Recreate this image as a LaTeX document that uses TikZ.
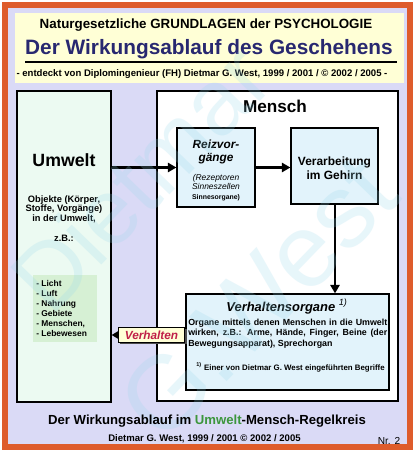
\documentclass[tikz,border=0pt]{standalone}
\usepackage{fontspec}
\setmainfont{Liberation Sans}
\usetikzlibrary{arrows.meta,fit,shadows}

\definecolor{frameorange}{RGB}{222,92,44}
\definecolor{backlav}{RGB}{218,218,246}
\definecolor{headyellow}{RGB}{255,255,214}
\definecolor{titleblue}{RGB}{40,40,112}
\definecolor{umweltfill}{RGB}{236,250,242}
\definecolor{listgreen}{RGB}{214,240,212}
\definecolor{organfill}{RGB}{226,243,251}
\definecolor{verhaltenred}{RGB}{192,32,72}
\definecolor{umweltgreen}{RGB}{60,150,60}
\definecolor{wmblue}{RGB}{150,215,235}

\newcommand{\fs}[2]{\fontsize{#1}{#2}\selectfont}

\tikzset{
  txt/.style={inner sep=0pt, font=\bfseries},
  box/.style={draw=black, line width=0.9pt, inner sep=0pt},
  flow/.style={line width=1.7pt, -{Triangle[length=6pt,width=6.5pt]}},
  watermark/.style={inner sep=0pt, text=wmblue, opacity=0.22, rotate=46}
}

\begin{document}
\begin{tikzpicture}[x=0.025cm, y=-0.025cm]
  \useasboundingbox (0,0) rectangle (416,457);

  % Frame and background
  \draw[line width=4.3pt, draw=frameorange, fill=backlav] (5,5) rectangle (410,447);

  % Header
  \node[fill=headyellow, inner sep=0pt, fit={(15,13) (404,83)}] (head) {};
  \node[txt, anchor=base, font=\bfseries\fs{9.5}{11}] (subject) at (206,29)
    {Naturgesetzliche GRUNDLAGEN der PSYCHOLOGIE};
  \node[txt, anchor=base, text=titleblue, font=\bfseries\fs{14.8}{17}] (title) at (209,55)
    {Der Wirkungsablauf des Geschehens};
  \draw[line width=0.8pt] (25,62) -- (397,62);
  \node[txt, anchor=base, font=\bfseries\fs{6.8}{8}] (discover) at (202,77)
    {- entdeckt von Diplomingenieur (FH) Dietmar G. West, 1999 / 2001 / © 2002 / 2005 -};

  % Umwelt (base anchor = last line)
  \node[box, fill=umweltfill, fit={(17,91) (111,402)}] (umwelt) {};
  \node[txt, anchor=base, font=\bfseries\fs{12.6}{14}] (umwelttitle) at (64,167) {Umwelt};
  \node[txt, anchor=base, align=center, font=\bfseries\fs{6.6}{6.8}] (objekte) at (64,221.5)
    {Objekte (Körper,\\Stoffe, Vorgänge)\\in der Umwelt,};
  \node[txt, anchor=base, font=\bfseries\fs{6.6}{6.8}] (zb) at (64,241.5) {z.B.:};
  \node[fill=listgreen, inner sep=0pt, fit={(33,275) (97,342)}] (liste) {};
  \node[txt, anchor=base west, align=left, font=\bfseries\fs{6}{7.04}] (items) at (36,336)
    {- Licht\\- Luft\\- Nahrung\\- Gebiete\\- Menschen,\\- Lebewesen};

  % Mensch
  \node[box, fill=white, fit={(157,91) (398,401)}] (mensch) {};
  \node[txt, anchor=base, font=\bfseries\fs{12.2}{14}] (menschtitle) at (275,113) {Mensch};

  \node[box, fill=organfill, fit={(177,128) (255,207)}] (reiz) {};
  \node[txt, anchor=base, align=center, font=\bfseries\itshape\fs{8.4}{9.6}] (reiztitle) at (216,162)
    {Reizvor-\\gänge};
  \node[txt, anchor=base, align=center, font=\itshape\mdseries\fs{6}{6.9}] (rezeptoren) at (216,199.5)
    {(Rezeptoren\\Sinneszellen\\{\upshape\bfseries\fs{4.9}{6.9}Sinnesorgane)}};

  \node[box, fill=organfill, fit={(291,128) (378,204)}] (verarb) {};
  \node[txt, anchor=base, align=center, font=\bfseries\fs{8.5}{10.4}] (verarbtext) at (334.5,180)
    {Verarbeitung\\im Gehirn};

  \node[box, fill=organfill, fit={(186,294) (389,390)}] (organe) {};
  \node[txt, anchor=base, font=\bfseries\itshape\fs{9.2}{11}] (organetitle) at (287,311)
    {Verhaltensorgane \textsuperscript{\mdseries 1)}};
  \node[txt, anchor=base west, text width=141.5pt, align=justify, font=\bfseries\fs{6.3}{7.5}] (organetext) at (188,325)
    {Organe mittels denen Menschen in die Umwelt\linebreak wirken, z.B.: Arme, Hände, Finger, Beine (der\linebreak Bewegungsapparat), Sprechorgan};
  \node[txt, anchor=base west, font=\bfseries\fs{5.6}{7}] (fussnote) at (196,370)
    {\textsuperscript{1)} Einer von Dietmar G. West eingeführten Begriffe};

  % Connectors
  \draw[flow] (umwelt.east |- reiz.west) -- (reiz.west);
  \draw[flow] (reiz.east) -- (verarb.west |- reiz.east);
  \draw[flow] (verarb.south -| 335,0) -- (organe.north -| 335,0);
  \coordinate (vback) at (186,335);
  \draw[line width=1.2pt, -{Triangle[length=7pt,width=8pt]}] (vback) -- (umwelt.east |- vback);
  \node[draw=black, line width=0.6pt, fill=headyellow, inner sep=0pt, minimum width=47.5pt, minimum height=10.5pt,
        drop shadow={shadow xshift=1.2pt, shadow yshift=-1.2pt, fill=black!70, opacity=1},
        text=verhaltenred, font=\bfseries\itshape\fs{8.4}{10}] (verhalten) at (151.5,335) {Verhalten};

  % Watermark
  \node[watermark, font=\fs{66}{66}] (wmname) at (140,178) {Dietmar};
  \node[watermark, font=\fs{74}{74}] (wmwest) at (258,298) {G.West};

  % Footer
  \node[txt, anchor=base, font=\bfseries\fs{9.35}{11}] (footer) at (207,424)
    {Der Wirkungsablauf im \textcolor{umweltgreen}{Umwelt}-Mensch-Regelkreis};
  \node[txt, anchor=base, font=\bfseries\fs{6.8}{8}] (credit) at (204.5,441)
    {Dietmar G. West, 1999 / 2001 © 2002 / 2005};
  \node[txt, anchor=base, font=\mdseries\fs{7.2}{8}] (nummer) at (389,444) {Nr. 2};
\end{tikzpicture}
\end{document}
